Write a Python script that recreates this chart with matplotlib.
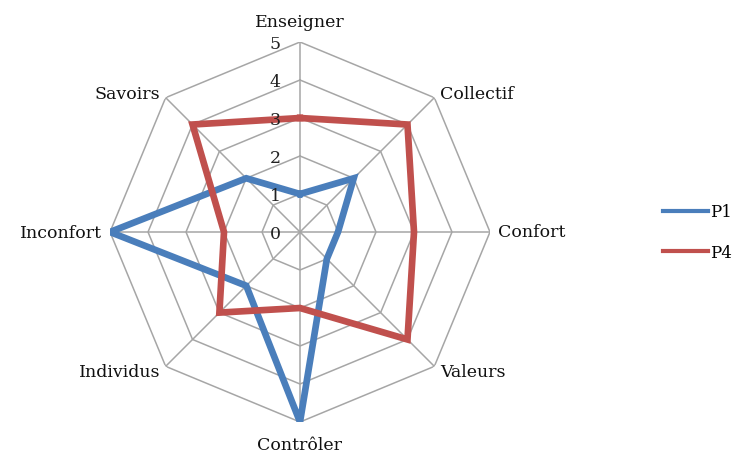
import numpy as np
import matplotlib
matplotlib.use('Agg')
import matplotlib.pyplot as plt

categories = ['Enseigner', 'Collectif', 'Confort', 'Valeurs',
              'Contrôler', 'Individus', 'Inconfort', 'Savoirs']
p1 = [1, 2, 1, 1, 5, 2, 5, 2]
p4 = [3, 4, 3, 4, 2, 3, 2, 4]
levels = [0, 1, 2, 3, 4, 5]

plt.rcParams['font.family'] = ['DejaVu Serif']

fig = plt.figure(figsize=(7.4, 4.56), dpi=100)
ax = fig.add_axes([110 / 740, 33 / 456, 380 / 740, 380 / 456], projection='polar')
ax.set_theta_offset(np.pi / 2)
ax.set_theta_direction(-1)
ax.set_ylim(0, 5)
ax.axis('off')

n = len(categories)
angles = np.linspace(0, 2 * np.pi, n, endpoint=False)
closed = np.append(angles, angles[0])

grid = '#a6a6a6'
for lv in levels[1:]:
    ax.plot(closed, [lv] * (n + 1), color=grid, lw=1.1, zorder=1)
for a in angles:
    ax.plot([a, a], [0, 5], color=grid, lw=1.1, zorder=1)

ax.plot(closed, p1 + p1[:1], color='#4a7ebb', lw=4.8, solid_joinstyle='miter', label='P1', zorder=3)
ax.plot(closed, p4 + p4[:1], color='#c0504d', lw=4.8, solid_joinstyle='miter', label='P4', zorder=3)

for lv in levels:
    ax.annotate(str(lv), xy=(0, lv), xytext=(-14, -1), textcoords='offset points',
                ha='right', va='center', fontsize=12.5, color='#222222')

pads = {'Enseigner': (0, 15, 'center', 'center'),
        'Collectif': (4, 3, 'left', 'center'),
        'Confort': (6, 0, 'left', 'center'),
        'Valeurs': (4, -4, 'left', 'center'),
        'Contrôler': (0, -16, 'center', 'center'),
        'Individus': (-4, -4, 'right', 'center'),
        'Inconfort': (-6, 0, 'right', 'center'),
        'Savoirs': (-4, 3, 'right', 'center')}
for a, c in zip(angles, categories):
    dx, dy, ha, va = pads[c]
    ax.annotate(c, xy=(a, 5), xytext=(dx, dy), textcoords='offset points',
                ha=ha, va=va, fontsize=12.5, color='#111111')

leg = fig.legend(loc='center left', bbox_to_anchor=(663 / 740, 1 - 233 / 456), frameon=False,
                 fontsize=12, handlelength=2.7, handletextpad=0.15, labelspacing=1.4,
                 borderpad=0, borderaxespad=0)
for line in leg.get_lines():
    line.set_linewidth(3)

fig.savefig('out.png', dpi=100, facecolor='white')
